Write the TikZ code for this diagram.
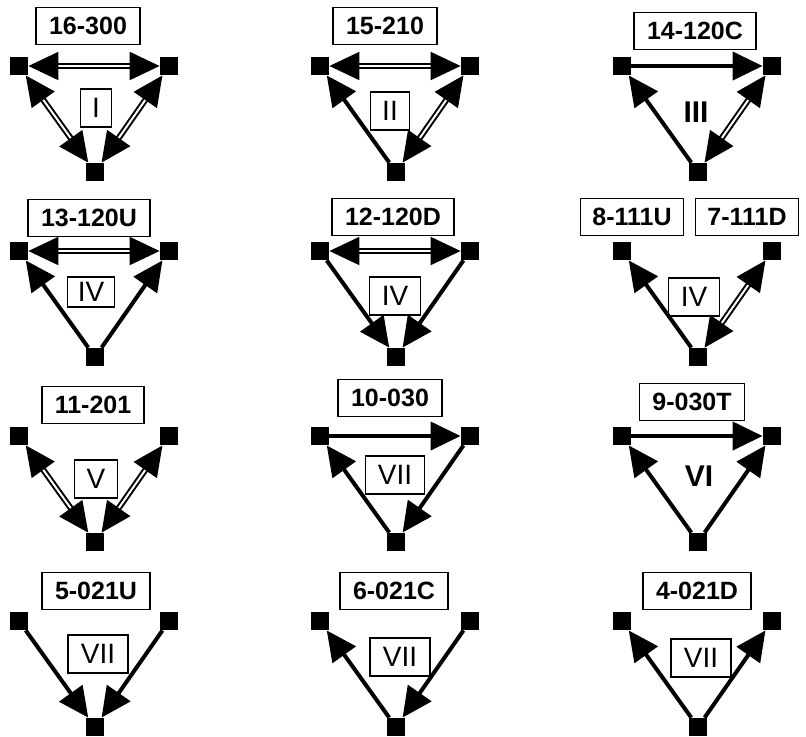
\documentclass[tikz,border=0pt]{standalone}
\usepackage{fontspec}
\setmainfont{Liberation Sans}
\usetikzlibrary{arrows.meta}

\begin{document}
\begin{tikzpicture}[x=0.5pt,y=-0.5pt,
  vert/.style={rectangle,fill=black,minimum size=9pt,inner sep=0pt},
  code/.style={draw,line width=0.8pt,font=\bfseries\fontsize{12.5}{14}\selectfont,minimum height=18.5pt,inner xsep=6.5pt,inner ysep=0pt},
  cls/.style={draw,line width=0.6pt,font=\fontsize{14}{16}\selectfont,minimum height=19pt,inner xsep=6pt,inner ysep=0pt},
  clsbold/.style={font=\bfseries\fontsize{15}{17}\selectfont},
  asym/.style={draw,line width=2pt,-{Triangle[length=15pt,width=14pt]}},
  mutual/.style={draw,line width=1pt,double,double distance=1pt,{Triangle[length=15pt,width=14pt]}-{Triangle[length=15pt,width=14pt]}}]
\useasboundingbox (0,0) rectangle (806,736);
% 16-300
\node[vert] (t1l) at (19,66) {};
\node[vert] (t1r) at (169,66) {};
\node[vert] (t1b) at (95,172) {};
\node[code] (t1name) at (88,26) {16-300};
\node[cls] (t1cls) at (96,108) {I};
\path (t1l) edge[mutual] (t1r);
\path (t1l) edge[mutual] (t1b);
\path (t1r) edge[mutual] (t1b);
% 15-210
\node[vert] (t2l) at (320,66) {};
\node[vert] (t2r) at (470,66) {};
\node[vert] (t2b) at (396,172) {};
\node[code] (t2name) at (385,26) {15-210};
\node[cls] (t2cls) at (390,111) {II};
\path (t2l) edge[mutual] (t2r);
\path (t2b) edge[asym] (t2l);
\path (t2r) edge[mutual] (t2b);
% 14-120C
\node[vert] (t3l) at (622,66) {};
\node[vert] (t3r) at (772,66) {};
\node[vert] (t3b) at (698,172) {};
\node[code] (t3name) at (695,31) {14-120C};
\node[clsbold] (t3cls) at (696,112) {III};
\path (t3l) edge[asym] (t3r);
\path (t3b) edge[asym] (t3l);
\path (t3r) edge[mutual] (t3b);
% 13-120U
\node[vert] (t4l) at (19,251) {};
\node[vert] (t4r) at (169,251) {};
\node[vert] (t4b) at (95,357) {};
\node[code] (t4name) at (89,218) {13-120U};
\node[cls,minimum height=15pt,inner xsep=5pt] (t4cls) at (91,292) {IV};
\path (t4l) edge[mutual] (t4r);
\path (t4b) edge[asym] (t4l);
\path (t4b) edge[asym] (t4r);
% 12-120D
\node[vert] (t5l) at (320,251) {};
\node[vert] (t5r) at (470,251) {};
\node[vert] (t5b) at (396,357) {};
\node[code] (t5name) at (393,217) {12-120D};
\node[cls] (t5cls) at (395,296) {IV};
\path (t5l) edge[mutual] (t5r);
\path (t5l) edge[asym] (t5b);
\path (t5r) edge[asym] (t5b);
% 8-111U and 7-111D
\node[vert] (t6l) at (622,251) {};
\node[vert] (t6r) at (772,251) {};
\node[vert] (t6b) at (698,357) {};
\node[code,inner xsep=6pt] (t6name) at (632,217) {8-111U};
\node[code,inner xsep=6pt] (t6alt) at (747,217) {7-111D};
\node[cls] (t6cls) at (694,297) {IV};
\path (t6b) edge[asym] (t6l);
\path (t6r) edge[mutual] (t6b);
% 11-201
\node[vert] (t7l) at (19,436) {};
\node[vert] (t7r) at (169,436) {};
\node[vert] (t7b) at (95,542) {};
\node[code] (t7name) at (93,405) {11-201};
\node[cls] (t7cls) at (96,479) {V};
\path (t7l) edge[mutual] (t7b);
\path (t7r) edge[mutual] (t7b);
% 10-030
\node[vert] (t8l) at (320,436) {};
\node[vert] (t8r) at (470,436) {};
\node[vert] (t8b) at (396,542) {};
\node[code] (t8name) at (390,398) {10-030};
\node[cls] (t8cls) at (395,475) {VII};
\path (t8l) edge[asym] (t8r);
\path (t8b) edge[asym] (t8l);
\path (t8r) edge[asym] (t8b);
% 9-030T
\node[vert] (t9l) at (622,436) {};
\node[vert] (t9r) at (772,436) {};
\node[vert] (t9b) at (698,542) {};
\node[code] (t9name) at (692,402) {9-030T};
\node[clsbold] (t9cls) at (699,476) {VI};
\path (t9l) edge[asym] (t9r);
\path (t9b) edge[asym] (t9l);
\path (t9b) edge[asym] (t9r);
% 5-021U
\node[vert] (t10l) at (19,621) {};
\node[vert] (t10r) at (169,621) {};
\node[vert] (t10b) at (95,727) {};
\node[code] (t10name) at (96,591) {5-021U};
\node[cls,minimum width=30pt] (t10cls) at (98,654) {VII};
\path (t10l) edge[asym] (t10b);
\path (t10r) edge[asym] (t10b);
% 6-021C
\node[vert] (t11l) at (320,621) {};
\node[vert] (t11r) at (470,621) {};
\node[vert] (t11b) at (396,727) {};
\node[code] (t11name) at (394,591) {6-021C};
\node[cls,minimum width=30pt] (t11cls) at (400,657) {VII};
\path (t11b) edge[asym] (t11l);
\path (t11r) edge[asym] (t11b);
% 4-021D
\node[vert] (t12l) at (622,621) {};
\node[vert] (t12r) at (772,621) {};
\node[vert] (t12b) at (698,727) {};
\node[code] (t12name) at (697,591) {4-021D};
\node[cls,minimum width=30pt] (t12cls) at (701,658) {VII};
\path (t12b) edge[asym] (t12l);
\path (t12b) edge[asym] (t12r);
\end{tikzpicture}
\end{document}
